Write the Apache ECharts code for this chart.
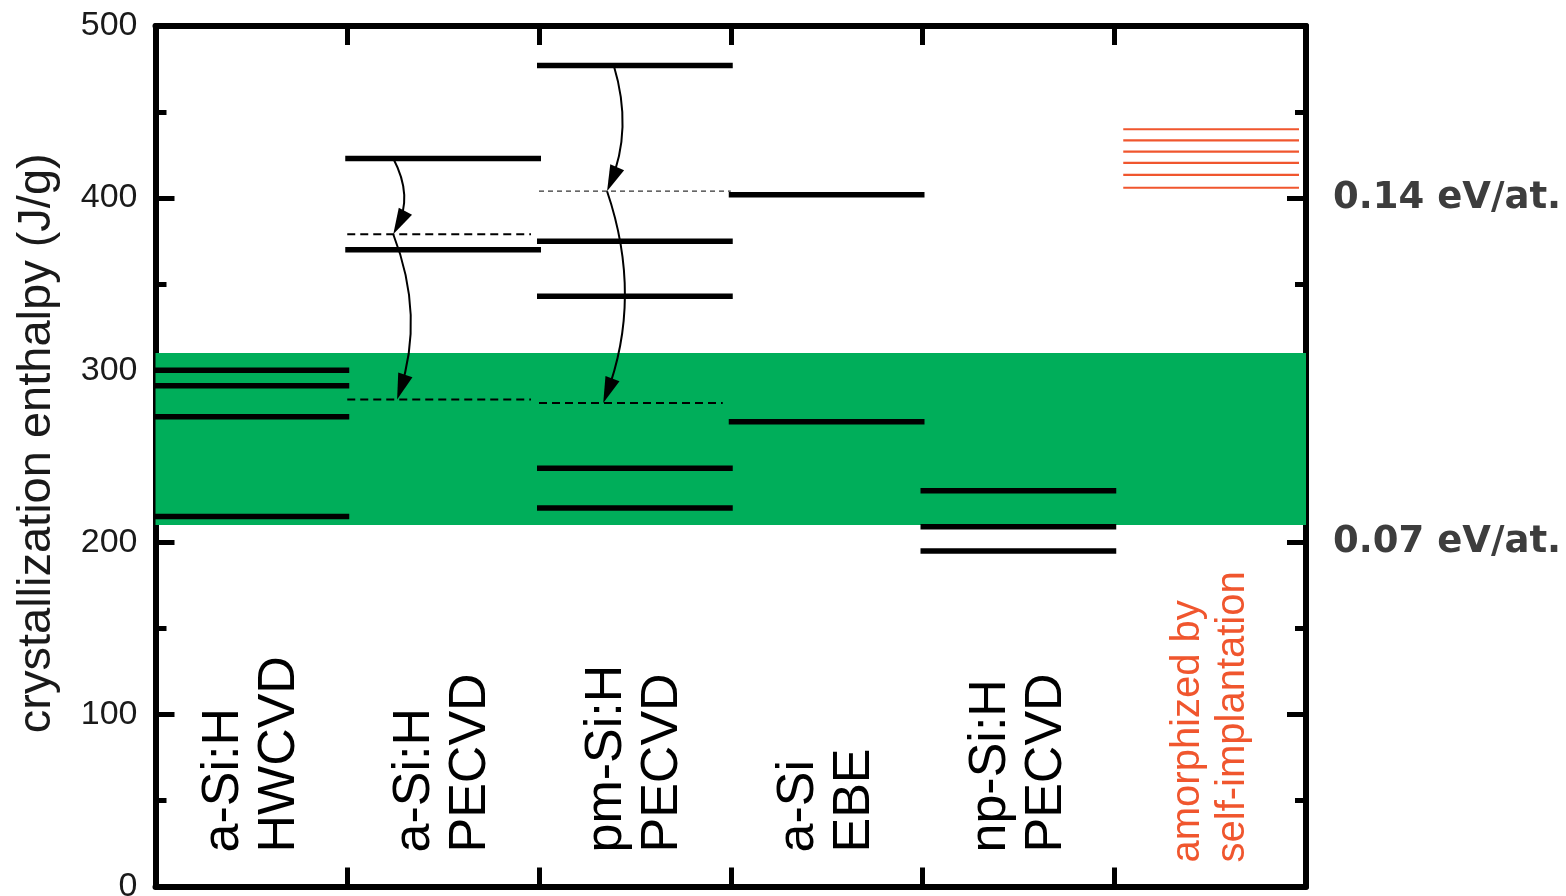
<!DOCTYPE html>
<html>
<head>
<meta charset="utf-8">
<script src="https://cdn.jsdelivr.net/npm/echarts@6/dist/echarts.min.js"></script>
<style>
  html, body { margin: 0; padding: 0; background: #ffffff; }
  #chart { width: 1566px; height: 896px; }
</style>
</head>
<body>
<div id="chart"></div>
<script>
// ---------------- data ----------------
const categories = [
  'a-Si:H\nHWCVD',
  'a-Si:H\nPECVD',
  'pm-Si:H\nPECVD',
  'a-Si\nEBE',
  'np-Si:H\nPECVD',
  'amorphized by\nself-implantation'
];
// measured crystallization enthalpies [category index, J/g]
const measuredLevels = [
  [0, 300], [0, 291], [0, 273], [0, 215],
  [1, 423], [1, 370],
  [2, 477], [2, 375], [2, 343], [2, 243], [2, 220],
  [3, 402], [3, 270],
  [4, 230], [4, 209], [4, 195]
];
// relaxed (dashed) levels [category index, J/g]
const relaxedLevels = [[1, 379], [1, 283], [2, 281]];
// intermediate relaxed level (thin dashed) [category index, J/g]
const intermediateLevels = [[2, 404]];
// self-implanted amorphous Si levels (J/g), category index 5
const implantedCategory = 5;
const implantedLevels = [440, 433.5, 427, 420.5, 413.5, 406];
// relaxation band (J/g)
const bandRange = [210, 310];
// relaxation arrows [x from, J/g from, x to, J/g to] (x in category units 0..6)
const arrows = [
  [1.24, 423, 1.24, 379],
  [1.24, 379, 1.26, 283],
  [2.39, 477, 2.355, 404],
  [2.355, 404, 2.335, 281]
];
// right axis tick labels
const rightTickValues = [200, 400];
const rightTickLabels = ['0.07 eV/at.', '0.14 eV/at.'];

// ---------------- chart ----------------
const chart = echarts.init(document.getElementById('chart'), null, { renderer: 'canvas' });
const FONT = 'Liberation Sans, Arial, Helvetica, sans-serif';
const RED = '#f0562e';

function levelRenderer(color, width, dash, extendPx, insetL, insetR) {
  return function (params, api) {
    const c = api.value(0);
    const v = api.value(1);
    const p0 = api.coord([c, v]);
    const p1 = api.coord([c + 1, v]);
    return {
      type: 'line',
      shape: { x1: p0[0] - extendPx + insetL, y1: p0[1], x2: p1[0] + extendPx - insetR, y2: p1[1] },
      style: { stroke: color, lineWidth: width, lineDash: dash || null }
    };
  };
}

const axisLineStyle = { color: '#000', width: 6 };
const tickStyle = { color: '#000', width: 5 };
const gridBox = { left: 155.5, right: 260, top: 26, bottom: 9.5, containLabel: false, outerBoundsMode: 'none' };

const option = {
  animation: false,
  backgroundColor: '#ffffff',
  grid: [Object.assign({}, gridBox), Object.assign({}, gridBox)],
  xAxis: [
    {
      gridIndex: 0,
      type: 'category',
      position: 'bottom',
      data: categories.map((c, i) => i === implantedCategory
        ? { value: c, textStyle: { color: RED, fontSize: 40, lineHeight: 45, padding: [0, 0, 0, 0] } }
        : { value: c }),
      boundaryGap: true,
      axisLine: { show: true, onZero: false, lineStyle: axisLineStyle },
      axisTick: { show: true, inside: true, length: 19, lineStyle: tickStyle },
      axisLabel: {
        inside: true, rotate: 90, margin: 24, interval: 0,
        fontSize: 52, lineHeight: 56, color: '#000', fontFamily: FONT,
        padding: [0, 0, 0, 10]
      },
      splitLine: { show: false }
    },
    {
      gridIndex: 0,
      type: 'category',
      position: 'top',
      data: categories,
      boundaryGap: true,
      axisLine: { show: true, onZero: false, lineStyle: axisLineStyle },
      axisTick: { show: true, inside: true, length: 19, lineStyle: tickStyle },
      axisLabel: { show: false },
      splitLine: { show: false }
    },
    {
      gridIndex: 1,
      type: 'value', min: 0, max: 6, show: false,
      axisLine: { onZero: false },
      splitLine: { show: false }
    }
  ],
  yAxis: [
    {
      gridIndex: 0,
      type: 'value', position: 'left', min: 0, max: 500, interval: 100,
      name: 'crystallization enthalpy (J/g)',
      nameLocation: 'middle', nameGap: 95,
      nameTextStyle: { fontSize: 47, fontFamily: FONT, color: '#1a1a1a', padding: [0, 0, 0, 26] },
      axisLine: { show: true, onZero: false, lineStyle: axisLineStyle },
      axisTick: { show: true, inside: true, length: 19, lineStyle: tickStyle },
      minorTick: { show: true, splitNumber: 2, length: 11, lineStyle: tickStyle },
      axisLabel: { fontSize: 34, margin: 18, color: '#1a1a1a', fontFamily: FONT },
      splitLine: { show: false }
    },
    {
      gridIndex: 0,
      type: 'value', position: 'right', min: 0, max: 500, interval: 100,
      axisLine: { show: true, onZero: false, lineStyle: axisLineStyle },
      axisTick: { show: true, inside: true, length: 19, lineStyle: tickStyle },
      minorTick: { show: true, splitNumber: 2, length: 11, lineStyle: tickStyle },
      axisLabel: {
        formatter: function (v) {
          const k = rightTickValues.indexOf(v);
          return k >= 0 ? rightTickLabels[k] : '';
        },
        fontSize: 37, fontWeight: 'bold', fontFamily: 'DejaVu Sans, sans-serif',
        color: '#3d3d3d', margin: 27
      },
      splitLine: { show: false }
    },
    {
      gridIndex: 1,
      type: 'value', min: 0, max: 500, show: false,
      axisLine: { onZero: false },
      splitLine: { show: false }
    }
  ],
  series: [
    {
      type: 'line', xAxisIndex: 2, yAxisIndex: 2, data: [], z: 1, silent: true,
      markArea: {
        silent: true,
        itemStyle: { color: '#00ae5a' },
        data: [[{ yAxis: bandRange[1] }, { yAxis: bandRange[0] }]]
      }
    },
    {
      type: 'custom', xAxisIndex: 2, yAxisIndex: 2, z: 5, silent: true,
      encode: { x: 0, y: 1 },
      data: measuredLevels,
      renderItem: levelRenderer('#000', 5.5, null, 2, 0, 0)
    },
    {
      type: 'custom', xAxisIndex: 2, yAxisIndex: 2, z: 5, silent: true,
      encode: { x: 0, y: 1 },
      data: relaxedLevels,
      renderItem: levelRenderer('#000', 2, [8, 5], 0, 0, 8)
    },
    {
      type: 'custom', xAxisIndex: 2, yAxisIndex: 2, z: 5, silent: true,
      encode: { x: 0, y: 1 },
      data: intermediateLevels,
      renderItem: levelRenderer('#333', 1.2, [5, 4], 0, 0, 0)
    },
    {
      type: 'custom', xAxisIndex: 2, yAxisIndex: 2, z: 5, silent: true,
      encode: { x: 0, y: 1 },
      data: implantedLevels.map(v => [implantedCategory, v]),
      renderItem: levelRenderer(RED, 2.2, null, 0, 9, 7)
    },
    {
      type: 'custom', xAxisIndex: 2, yAxisIndex: 2, z: 6, silent: true,
      encode: { x: [0, 2], y: [1, 3] },
      data: arrows,
      renderItem: function (params, api) {
        const s = api.coord([api.value(0), api.value(1)]);
        const e = api.coord([api.value(2), api.value(3)]);
        const dx = e[0] - s[0], dy = e[1] - s[1];
        const len = Math.sqrt(dx * dx + dy * dy);
        const nx = dy / len, ny = -dx / len; // right-hand normal when going down
        const bulge = Math.max(10, 0.09 * len);
        const cp = [(s[0] + e[0]) / 2 + nx * 2 * bulge, (s[1] + e[1]) / 2 + ny * 2 * bulge];
        let ux = e[0] - cp[0], uy = e[1] - cp[1];
        const ul = Math.sqrt(ux * ux + uy * uy);
        ux /= ul; uy /= ul;
        const hl = 26, hw = 7.5;
        const bx = e[0] - ux * hl, by = e[1] - uy * hl;
        return {
          type: 'group',
          children: [
            {
              type: 'bezierCurve',
              shape: { x1: s[0], y1: s[1], x2: e[0] - ux * 8, y2: e[1] - uy * 8, cpx1: cp[0], cpy1: cp[1] },
              style: { stroke: '#000', lineWidth: 2, fill: null }
            },
            {
              type: 'polygon',
              shape: { points: [[e[0], e[1]], [bx - uy * hw, by + ux * hw], [bx + uy * hw, by - ux * hw]] },
              style: { fill: '#000', stroke: null }
            }
          ]
        };
      }
    }
  ]
};
chart.setOption(option);
</script>
</body>
</html>
